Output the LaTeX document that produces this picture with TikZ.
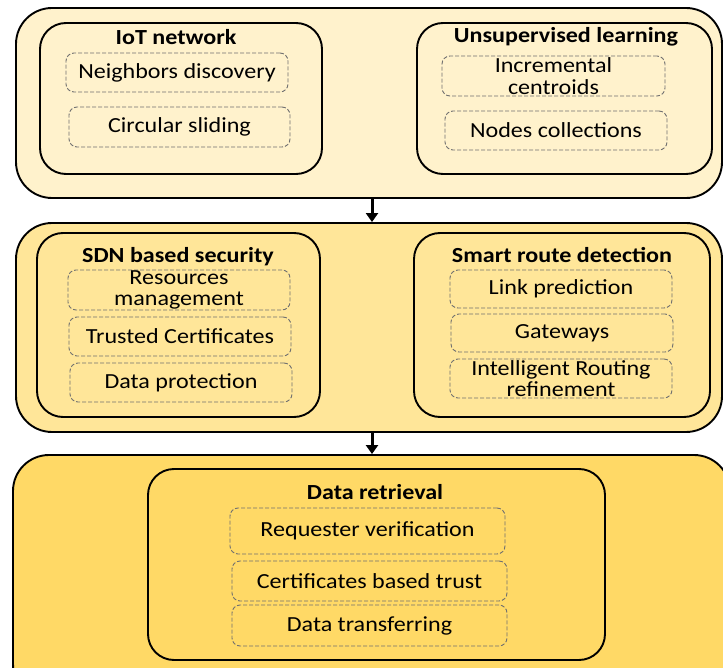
\documentclass[tikz,border=0pt]{standalone}
\usepackage{fontspec}
\setmainfont{Carlito}[FakeStretch=1.12]
\usetikzlibrary{arrows.meta}
\definecolor{c1}{HTML}{FFF2CC}
\definecolor{c2}{HTML}{FFE699}
\definecolor{c3}{HTML}{FFD966}
\definecolor{dgray}{HTML}{6F6F6F}
\tikzset{
  outerbox/.style={draw=black, line width=1.9pt, rounded corners=36pt, inner sep=0pt},
  innerbox/.style={draw=black, line width=1.9pt, rounded corners=26pt, inner sep=0pt},
  subbox/.style={draw=dgray, line width=0.9pt, dash pattern=on 4pt off 2pt, rounded corners=8pt, inner sep=0pt, align=center,
     font=\fontsize{21.5}{21.5}\selectfont},
  ttl/.style={font=\fontsize{21.5}{24}\selectfont\bfseries, inner sep=0pt},
  arr/.style={line width=3pt, -{Triangle[width=12pt,length=9pt]}}
}
\begin{document}
\begin{tikzpicture}[x=1pt,y=-1pt]
\useasboundingbox (0,0) rectangle (723,668);
\clip (0,0) rectangle (723,668);
% Box 1
\node[outerbox, fill=c1, minimum width=706pt, minimum height=190pt] (b1) at (369,103) {};
\node[innerbox, fill=c1, minimum width=282pt, minimum height=151pt] (iot) at (181,98.5) {};
\node[ttl] (iott) at (176,37) {IoT network};
\node[subbox, minimum width=222pt, minimum height=39pt] (nd) at (177,72.5) {Neighbors discovery};
\node[subbox, minimum width=221pt, minimum height=40pt] (cs) at (179.5,127) {Circular sliding};
\node[innerbox, fill=c1, minimum width=295pt, minimum height=151pt] (ul) at (564.5,98.5) {};
\node[ttl] (ult) at (566,37) {Unsupervised learning};
\node[subbox, minimum width=223pt, minimum height=40pt] (ic) at (553.5,76) {Incremental\\centroids};
\node[subbox, minimum width=222pt, minimum height=39pt] (nc) at (556,130.5) {Nodes collections};
% Box 2
\node[outerbox, fill=c2, minimum width=706pt, minimum height=209pt] (b2) at (369,327.5) {};
\node[innerbox, fill=c2, minimum width=283pt, minimum height=184pt] (sdn) at (178.5,325) {};
\node[ttl] (sdnt) at (178,257) {SDN based security};
\node[subbox, minimum width=222pt, minimum height=40pt] (rm) at (179,290) {Resources\\management};
\node[subbox, minimum width=222pt, minimum height=39pt] (tc) at (180,336.5) {Trusted Certificates};
\node[subbox, minimum width=222pt, minimum height=39pt] (dp) at (181,382.5) {Data protection};
\node[innerbox, fill=c2, minimum width=296pt, minimum height=184pt] (srd) at (562,325) {};
\node[ttl] (srdt) at (562,255) {Smart route detection};
\node[subbox, minimum width=222pt, minimum height=38pt] (lp) at (561,289) {Link prediction};
\node[subbox, minimum width=222pt, minimum height=38pt] (gw) at (562,333) {Gateways};
\node[subbox, minimum width=222pt, minimum height=39pt] (ir) at (561,378.5) {Intelligent Routing\\refinement};
% Box 3
\node[outerbox, fill=c3, minimum width=717pt, minimum height=245pt] (b3) at (371.5,577.5) {};
\node[innerbox, fill=c3, minimum width=457pt, minimum height=191pt] (dr) at (376.5,564.5) {};
\node[ttl] (drt) at (375,492) {Data retrieval};
\node[subbox, minimum width=275pt, minimum height=46pt] (rv) at (367.5,531) {Requester verification};
\node[subbox, minimum width=275pt, minimum height=40pt] (cb) at (369.5,581) {Certificates based trust};
\node[subbox, minimum width=275pt, minimum height=41pt] (dt) at (369.5,625.5) {Data transferring};
% Arrows
\draw[arr] ([xshift=3pt]b1.south) -- ([xshift=3pt]b2.north);
\draw[arr] ([xshift=3pt]b2.south) -- ([xshift=3pt]b2.south |- b3.north);
\end{tikzpicture}
\end{document}
